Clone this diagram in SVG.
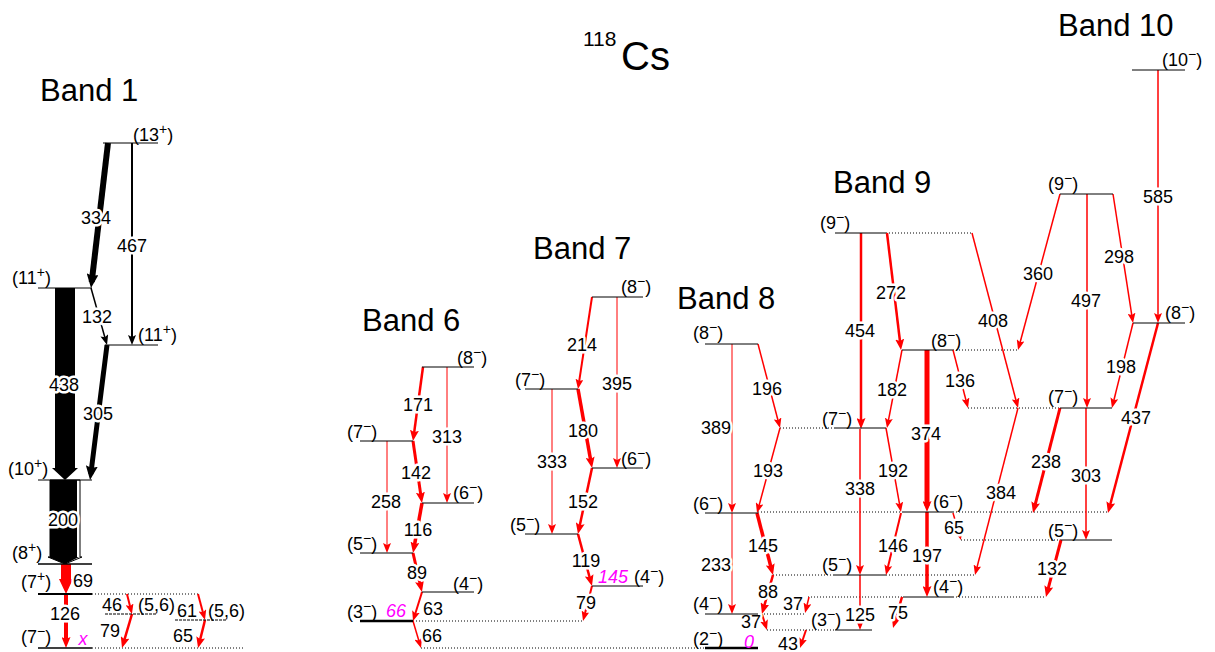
<svg xmlns="http://www.w3.org/2000/svg" width="1215" height="652" viewBox="0 0 1215 652">
<style>
text{font-family:"Liberation Sans",Arial,sans-serif;fill:#000}
.t{font-size:31px}
.lb{font-size:18px}
.s{font-size:14px}
.n{font-size:18px;text-anchor:middle;stroke:#fff;stroke-width:5;stroke-linejoin:round;paint-order:stroke}
.m{font-size:18px;font-style:italic;fill:#f0f;text-anchor:middle}
.lv{stroke:#000;stroke-width:1;fill:none}
.lvd{stroke:#000;stroke-width:1;fill:none;stroke-dasharray:3 1}
.dot{stroke:#000;stroke-width:1;fill:none;stroke-dasharray:1 2}
.r{stroke:#f00;fill:none}
.k{stroke:#000;fill:none}
.ra{marker-end:url(#ar)}
.rb{marker-end:url(#arb)}
</style>
<defs>
<marker id="ar" markerUnits="userSpaceOnUse" viewBox="0 0 10 8" markerWidth="10" markerHeight="8" refX="4" refY="4" orient="auto"><path d="M0,0 L10,4 L0,8 L2,4 z" fill="#f00"/></marker>
<marker id="arb" markerUnits="userSpaceOnUse" viewBox="0 0 11 9" markerWidth="11" markerHeight="9" refX="5" refY="4.5" orient="auto"><path d="M0,0 L11,4.5 L0,9 L2,4.5 z" fill="#f00"/></marker>
<marker id="aks" markerUnits="userSpaceOnUse" viewBox="0 0 10 8" markerWidth="10" markerHeight="8" refX="4" refY="4" orient="auto"><path d="M0,0 L10,4 L0,8 L2,4 z" fill="#000"/></marker>
<marker id="akb" markerUnits="userSpaceOnUse" viewBox="0 0 14 12" markerWidth="14" markerHeight="12" refX="8" refY="6" orient="auto"><path d="M0,0 L14,6 L0,12 L2,6 z" fill="#000"/></marker>
</defs>
<rect width="1215" height="652" fill="#fff"/>

<g id="titles">
<text x="583" y="46" style="font-size:21px">118</text>
<text x="621" y="70" style="font-size:40px">Cs</text>
<text class="t" x="40" y="101">Band 1</text>
<text class="t" x="362" y="331">Band 6</text>
<text class="t" x="533" y="259">Band 7</text>
<text class="t" x="677" y="309">Band 8</text>
<text class="t" x="833" y="193">Band 9</text>
<text class="t" x="1058" y="36">Band 10</text>
</g>

<g id="connectors">
<g id="links">
<path class="dot" d="M92,594H198 M92,648H245 M413,621H583 M421,648H705 M780,428H835 M758,512H902 M953,512H1108 M773,575H834 M886,575H975 M758,614H805 M808,597H903 M953,597H1046 M767,630H835 M886,233H972 M953,350H1018 M968,408H1060 M961,540H1061"/>
</g>
<g id="band1-transitions">
<path class="k" stroke-width="6" marker-end="url(#akb)" d="M108,143L91.7,282"/>
<path class="k" stroke-width="2" marker-end="url(#aks)" d="M132,143L132,339"/>
<path class="k" stroke-width="1.5" marker-end="url(#aks)" d="M91,288L105.4,339.2"/>
<path class="k" stroke-width="5" marker-end="url(#akb)" d="M107,345L90.8,474"/>
<polygon points="55,288 75,288 75,468 78,468 65,480 52,468 55,468" fill="#000"/>
<polygon points="50,480 80,480 80,557 82,557 65,564 48,557 50,557" fill="#fff" stroke="#000" stroke-width="1"/>
<polygon points="50,480 77,480 77,557 79,557 65,564 48,557 50,557" fill="#000"/>
<polygon points="61,564 71,564 71,579 73,579 66,594 59,579 61,579" fill="#f00"/>
<path class="r rb" stroke-width="4" d="M66,594L66,642"/>
<path class="r ra" stroke-width="2" d="M127,594L130.5,608.2"/>
<path class="r rb" stroke-width="2.5" d="M132,614L123.7,642.2"/>
<path class="r ra" stroke-width="2" d="M198,594L203.4,614.2"/>
<path class="r rb" stroke-width="2.5" d="M205,620L199.5,642.2"/>
</g>
<g id="band6-transitions">
<path class="r rb" stroke-width="2.5" d="M423,367L413.8,435.1"/>
<path class="r ra" stroke-width="1" d="M447,367L447,497"/>
<path class="r rb" stroke-width="3" d="M413,441L421.1,497.1"/>
<path class="r ra" stroke-width="1" d="M387,441L387,547"/>
<path class="r rb" stroke-width="3.5" d="M422,503L414.1,547.1"/>
<path class="r rb" stroke-width="3" d="M413,553L420.6,586.2"/>
<path class="r ra" stroke-width="2" d="M422,592L414.8,615.3"/>
<path class="r ra" stroke-width="1.5" d="M413,621L419.3,642.3"/>
</g>
<g id="band7-transitions">
<path class="r ra" stroke-width="2" d="M592,297L578.9,383.1"/>
<path class="r ra" stroke-width="1" d="M617,297L617,462"/>
<path class="r rb" stroke-width="3.5" d="M578,389L591,462.1"/>
<path class="r ra" stroke-width="1" d="M552,389L552,528"/>
<path class="r rb" stroke-width="2.5" d="M592,468L579.2,528.1"/>
<path class="r rb" stroke-width="2.5" d="M578,534L590.4,580.2"/>
<path class="r ra" stroke-width="2" d="M592,586L584.5,615.2"/>
</g>
<g id="band8-transitions">
<path class="r ra" stroke-width="1" d="M732,344L732,507"/>
<path class="r ra" stroke-width="1.5" d="M758,344L778.5,422.2"/>
<path class="r ra" stroke-width="1.5" d="M780,428L758.6,507.2"/>
<path class="r ra" stroke-width="1" d="M732,513L732,608"/>
<path class="r rb" stroke-width="3.5" d="M757,513L771.5,569.2"/>
<path class="r rb" stroke-width="2.5" d="M773,575L763.6,608.2"/>
<path class="r ra" stroke-width="2" d="M762,614L765.2,624.3"/>
<path class="r ra" stroke-width="1.5" d="M809,597L806.5,607.2"/>
<path class="r ra" stroke-width="2" d="M806,630L801.9,642.3"/>
</g>
<g id="band9-transitions">
<path class="r rb" stroke-width="2.5" d="M861,233L861,423"/>
<path class="r rb" stroke-width="2.5" d="M887,233L900.3,344"/>
<path class="r ra" stroke-width="1.5" d="M972,233L1016.5,402.2"/>
<path class="r ra" stroke-width="1.5" d="M1060,194L1019.6,344.2"/>
<path class="r ra" stroke-width="1.5" d="M902,350L888.1,422.1"/>
<path class="r rb" stroke-width="5" d="M927,350L927,506"/>
<path class="r ra" stroke-width="1.5" d="M953,350L966.5,402.2"/>
<path class="r ra" stroke-width="1.5" d="M860,429L860,569"/>
<path class="r ra" stroke-width="1.5" d="M886,428L899.9,506.1"/>
<path class="r rb" stroke-width="3.5" d="M927,512L927,591"/>
<path class="r ra" stroke-width="2" d="M901,513L887.4,569.2"/>
<path class="r ra" stroke-width="1.5" d="M953,513L959.3,534.3"/>
<path class="r ra" stroke-width="1.5" d="M1018,408L976.5,569.2"/>
<path class="r ra" stroke-width="1.5" d="M860,575L860,624"/>
<path class="r rb" stroke-width="2.5" d="M902,597L894.7,622.2"/>
</g>
<g id="band10-transitions">
<path class="r ra" stroke-width="1.5" d="M1158,70L1158,317"/>
<path class="r ra" stroke-width="1.5" d="M1087,194L1087,402"/>
<path class="r ra" stroke-width="1.5" d="M1113,194L1132.1,317.1"/>
<path class="r ra" stroke-width="1.5" d="M1133,323L1113.4,402.2"/>
<path class="r rb" stroke-width="2.5" d="M1158,323L1109.5,507.2"/>
<path class="r rb" stroke-width="3" d="M1060,408L1034.5,507.2"/>
<path class="r ra" stroke-width="1.5" d="M1086,408L1086,534"/>
<path class="r rb" stroke-width="3" d="M1061,540L1047.5,591.2"/>
</g>
<g id="transition-labels">
<text class="n" x="96" y="224">334</text>
<text class="n" x="132" y="252">467</text>
<text class="n" x="97" y="323">132</text>
<text class="n" x="64" y="391">438</text>
<text class="n" x="98" y="420">305</text>
<text class="n" x="63" y="526">200</text>
<text class="n" x="83" y="587">69</text>
<text class="n" x="65" y="620">126</text>
<text class="n" x="112" y="611">46</text>
<text class="n" x="110" y="637">79</text>
<text class="n" x="187" y="617">61</text>
<text class="n" x="183" y="642">65</text>
<text class="n" x="418" y="411">171</text>
<text class="n" x="447" y="443">313</text>
<text class="n" x="416" y="479">142</text>
<text class="n" x="386" y="508">258</text>
<text class="n" x="418" y="536">116</text>
<text class="n" x="417" y="579">89</text>
<text class="n" x="433" y="615">63</text>
<text class="n" x="432" y="642">66</text>
<text class="n" x="582" y="351">214</text>
<text class="n" x="617" y="390">395</text>
<text class="n" x="583" y="437">180</text>
<text class="n" x="552" y="468">333</text>
<text class="n" x="583" y="508">152</text>
<text class="n" x="586" y="567">119</text>
<text class="n" x="586" y="609">79</text>
<text class="n" x="716" y="434">389</text>
<text class="n" x="767" y="395">196</text>
<text class="n" x="768" y="477">193</text>
<text class="n" x="716" y="571">233</text>
<text class="n" x="763" y="552">145</text>
<text class="n" x="768" y="598">88</text>
<text class="n" x="751" y="628">37</text>
<text class="n" x="793" y="610">37</text>
<text class="n" x="788" y="650">43</text>
<text class="n" x="860" y="337">454</text>
<text class="n" x="891" y="299">272</text>
<text class="n" x="993" y="327">408</text>
<text class="n" x="1038" y="280">360</text>
<text class="n" x="892" y="396">182</text>
<text class="n" x="926" y="440">374</text>
<text class="n" x="960" y="387">136</text>
<text class="n" x="860" y="495">338</text>
<text class="n" x="893" y="477">192</text>
<text class="n" x="893" y="552">146</text>
<text class="n" x="927" y="562">197</text>
<text class="n" x="954" y="534">65</text>
<text class="n" x="1001" y="499">384</text>
<text class="n" x="860" y="621">125</text>
<text class="n" x="898" y="619">75</text>
<text class="n" x="1158" y="203">585</text>
<text class="n" x="1086" y="307">497</text>
<text class="n" x="1119" y="263">298</text>
<text class="n" x="1121" y="373">198</text>
<text class="n" x="1136" y="424">437</text>
<text class="n" x="1046" y="468">238</text>
<text class="n" x="1086" y="482">303</text>
<text class="n" x="1052" y="575">132</text>
</g>
</g>

<g id="b1-13p"><path class="lv" d="M103,143H158"/><text class="lb" x="133" y="141">(13<tspan class="s" dy="-7">+</tspan><tspan dy="7">)</tspan></text></g>
<g id="b1-11p-a"><path class="lv" d="M38,288H92"/><text class="lb" x="12" y="284">(11<tspan class="s" dy="-7">+</tspan><tspan dy="7">)</tspan></text></g>
<g id="b1-11p-b"><path class="lv" d="M105,345H158"/><text class="lb" x="138" y="341">(11<tspan class="s" dy="-7">+</tspan><tspan dy="7">)</tspan></text></g>
<g id="b1-10p"><path class="lv" d="M38,480H92"/><text class="lb" x="8" y="475">(10<tspan class="s" dy="-7">+</tspan><tspan dy="7">)</tspan></text></g>
<g id="b1-8p"><path class="lv" style="stroke-width:1.5" d="M38,564H92"/><text class="lb" x="12" y="559">(8<tspan class="s" dy="-7">+</tspan><tspan dy="7">)</tspan></text></g>
<g id="b1-7p"><path class="lv" style="stroke-width:2" d="M38,594H92"/><text class="lb" x="21" y="588">(7<tspan class="s" dy="-7">+</tspan><tspan dy="7">)</tspan></text></g>
<g id="b1-7m"><path class="lv" style="stroke-width:1.5" d="M38,648H92"/><text class="lb" x="21" y="643">(7<tspan class="s" dy="-7">−</tspan><tspan dy="7">)</tspan></text><text class="m" x="83" y="645">x</text></g>
<g id="b1-56a"><path class="lvd" d="M105,614H157"/><text class="lb" x="138" y="611">(5,6)</text></g>
<g id="b1-56b"><path class="lvd" d="M175,620H227"/><text class="lb" x="208" y="617">(5,6)</text></g>

<g id="b6-8m"><path class="lv" d="M422,367H474"/><text class="lb" x="457" y="364">(8<tspan class="s" dy="-7">−</tspan><tspan dy="7">)</tspan></text></g>
<g id="b6-7m"><path class="lv" d="M360,441H413"/><text class="lb" x="347" y="438">(7<tspan class="s" dy="-7">−</tspan><tspan dy="7">)</tspan></text></g>
<g id="b6-6m"><path class="lv" d="M422,503H474"/><text class="lb" x="453" y="499">(6<tspan class="s" dy="-7">−</tspan><tspan dy="7">)</tspan></text></g>
<g id="b6-5m"><path class="lv" d="M360,553H413"/><text class="lb" x="347" y="550">(5<tspan class="s" dy="-7">−</tspan><tspan dy="7">)</tspan></text></g>
<g id="b6-4m"><path class="lv" d="M422,592H474"/><text class="lb" x="453" y="590">(4<tspan class="s" dy="-7">−</tspan><tspan dy="7">)</tspan></text></g>
<g id="b6-3m"><path class="lv" style="stroke-width:2.5" d="M360,621H413"/><text class="lb" x="347" y="618">(3<tspan class="s" dy="-7">−</tspan><tspan dy="7">)</tspan></text><text class="m" x="396" y="617">66</text></g>

<g id="b7-8m"><path class="lv" d="M592,297H643"/><text class="lb" x="621" y="293">(8<tspan class="s" dy="-7">−</tspan><tspan dy="7">)</tspan></text></g>
<g id="b7-7m"><path class="lv" d="M525,389H578"/><text class="lb" x="515" y="386">(7<tspan class="s" dy="-7">−</tspan><tspan dy="7">)</tspan></text></g>
<g id="b7-6m"><path class="lv" d="M592,468H643"/><text class="lb" x="621" y="465">(6<tspan class="s" dy="-7">−</tspan><tspan dy="7">)</tspan></text></g>
<g id="b7-5m"><path class="lv" d="M525,534H578"/><text class="lb" x="510" y="531">(5<tspan class="s" dy="-7">−</tspan><tspan dy="7">)</tspan></text></g>
<g id="b7-4m"><path class="lv" d="M592,586H643"/><text class="lb" x="634" y="583">(4<tspan class="s" dy="-7">−</tspan><tspan dy="7">)</tspan></text><text class="m" x="613" y="583">145</text></g>

<g id="b8-8m"><path class="lv" d="M705,344H758"/><text class="lb" x="693" y="339">(8<tspan class="s" dy="-7">−</tspan><tspan dy="7">)</tspan></text></g>
<g id="b8-6m"><path class="lv" d="M705,513H758"/><text class="lb" x="693" y="510">(6<tspan class="s" dy="-7">−</tspan><tspan dy="7">)</tspan></text></g>
<g id="b8-4m"><path class="lv" d="M705,614H758"/><text class="lb" x="693" y="610">(4<tspan class="s" dy="-7">−</tspan><tspan dy="7">)</tspan></text></g>
<g id="b8-2m"><path class="lv" style="stroke-width:2.5" d="M705,648H758"/><text class="lb" x="693" y="645">(2<tspan class="s" dy="-7">−</tspan><tspan dy="7">)</tspan></text><text class="m" x="749" y="648">0</text></g>

<g id="b9-9m"><path class="lv" d="M835,233H886"/><text class="lb" x="820" y="229">(9<tspan class="s" dy="-7">−</tspan><tspan dy="7">)</tspan></text></g>
<g id="b9-8m"><path class="lv" d="M902,350H953"/><text class="lb" x="931" y="347">(8<tspan class="s" dy="-7">−</tspan><tspan dy="7">)</tspan></text></g>
<g id="b9-7m"><path class="lv" d="M835,428H886"/><text class="lb" x="822" y="425">(7<tspan class="s" dy="-7">−</tspan><tspan dy="7">)</tspan></text></g>
<g id="b9-6m"><path class="lv" d="M902,512H953"/><text class="lb" x="933" y="508">(6<tspan class="s" dy="-7">−</tspan><tspan dy="7">)</tspan></text></g>
<g id="b9-5m"><path class="lv" d="M834,575H886"/><text class="lb" x="822" y="571">(5<tspan class="s" dy="-7">−</tspan><tspan dy="7">)</tspan></text></g>
<g id="b9-4m"><path class="lv" d="M903,597H953"/><text class="lb" x="933" y="593">(4<tspan class="s" dy="-7">−</tspan><tspan dy="7">)</tspan></text></g>
<g id="b9-3m"><path class="lv" d="M835,630H872"/><text class="lb" x="811" y="626">(3<tspan class="s" dy="-7">−</tspan><tspan dy="7">)</tspan></text></g>

<g id="b10-10m"><path class="lv" d="M1132,70H1185"/><text class="lb" x="1162" y="66">(10<tspan class="s" dy="-7">−</tspan><tspan dy="7">)</tspan></text></g>
<g id="b10-9m"><path class="lv" d="M1060,194H1113"/><text class="lb" x="1048" y="190">(9<tspan class="s" dy="-7">−</tspan><tspan dy="7">)</tspan></text></g>
<g id="b10-8m"><path class="lv" d="M1133,323H1185"/><text class="lb" x="1165" y="319">(8<tspan class="s" dy="-7">−</tspan><tspan dy="7">)</tspan></text></g>
<g id="b10-7m"><path class="lv" d="M1060,408H1112"/><text class="lb" x="1048" y="403">(7<tspan class="s" dy="-7">−</tspan><tspan dy="7">)</tspan></text></g>
<g id="b10-5m"><path class="lv" d="M1061,540H1112"/><text class="lb" x="1048" y="537">(5<tspan class="s" dy="-7">−</tspan><tspan dy="7">)</tspan></text></g>
</svg>
